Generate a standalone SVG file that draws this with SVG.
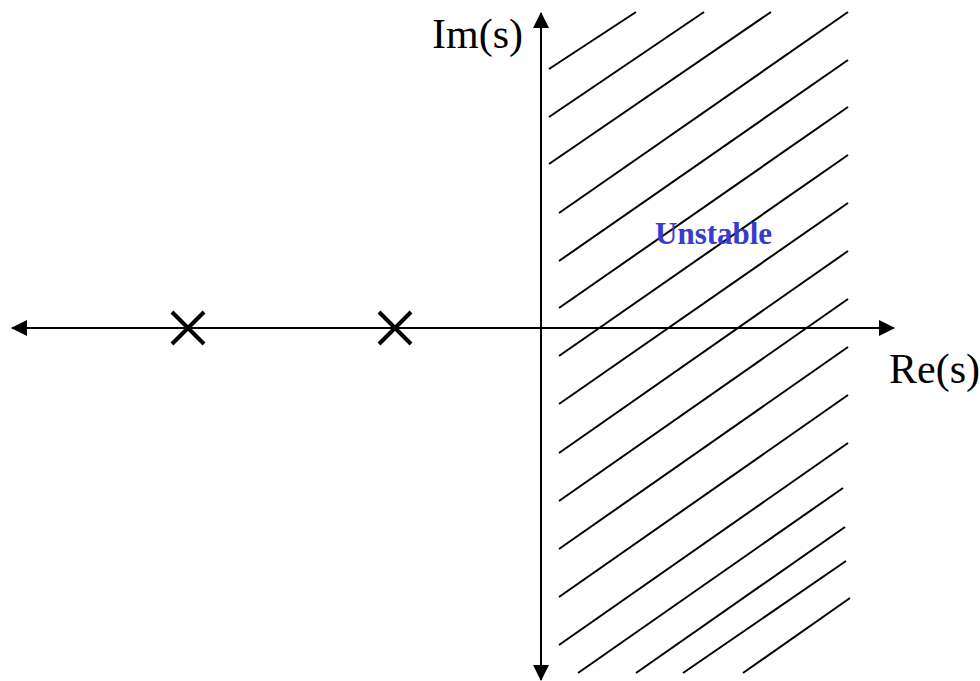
<svg xmlns="http://www.w3.org/2000/svg" width="980" height="681" viewBox="0 0 980 681">
<defs>
<marker id="ah" markerWidth="8" markerHeight="8" refX="7.5" refY="4" orient="auto" markerUnits="strokeWidth"><path d="M0,0 L8,4 L0,8 Z" fill="#000"/></marker>
<style>
.ax{stroke:#000;stroke-width:2;fill:none}
.h{stroke:#000;stroke-width:2;fill:none}
.x{stroke:#000;stroke-width:4;fill:none}
.lbl{font-family:"Liberation Serif","Times New Roman",serif;font-size:42px;fill:#000}
.un{font-family:"Liberation Serif","Times New Roman",serif;font-size:31px;font-weight:bold;fill:#3a3acc}
</style>
</defs>
<rect width="980" height="681" fill="#fff"/>
<g id="hatch">
<line class="h" x1="636" y1="12" x2="549" y2="69"/>
<line class="h" x1="704" y1="12" x2="549" y2="117"/>
<line class="h" x1="771" y1="12" x2="549" y2="164"/>
<line class="h" x1="848" y1="12" x2="559" y2="213"/>
<line class="h" x1="848" y1="60" x2="559" y2="261"/>
<line class="h" x1="848" y1="107" x2="559" y2="308"/>
<line class="h" x1="848" y1="155" x2="559" y2="356"/>
<line class="h" x1="848" y1="203" x2="559" y2="404"/>
<line class="h" x1="848" y1="251" x2="559" y2="453"/>
<line class="h" x1="848" y1="299" x2="559" y2="501"/>
<line class="h" x1="848" y1="347" x2="559" y2="549"/>
<line class="h" x1="848" y1="395" x2="559" y2="597"/>
<line class="h" x1="848" y1="443" x2="559" y2="645"/>
<line class="h" x1="843" y1="488" x2="578" y2="673"/>
<line class="h" x1="845" y1="527" x2="636" y2="673"/>
<line class="h" x1="846" y1="561" x2="683" y2="673"/>
<line class="h" x1="850" y1="598" x2="743" y2="673"/>
</g>
<g id="connectors">
<line class="ax" x1="541" y1="328" x2="541" y2="13" marker-end="url(#ah)"/>
<line class="ax" x1="541" y1="328" x2="541" y2="680" marker-end="url(#ah)"/>
<line class="ax" x1="541" y1="328" x2="894" y2="328" marker-end="url(#ah)"/>
<line class="ax" x1="541" y1="328" x2="12" y2="328" marker-end="url(#ah)"/>
</g>
<g id="pole1"><path class="x" d="M172,312 L204,344 M204,312 L172,344"/></g>
<g id="pole2"><path class="x" d="M379,312 L411,344 M411,312 L379,344"/></g>
<g id="im-label"><text class="lbl" x="432" y="48">Im(s)</text></g>
<g id="re-label"><text class="lbl" x="889" y="383">Re(s)</text></g>
<g id="unstable"><text class="un" x="655" y="244">Unstable</text></g>
</svg>
